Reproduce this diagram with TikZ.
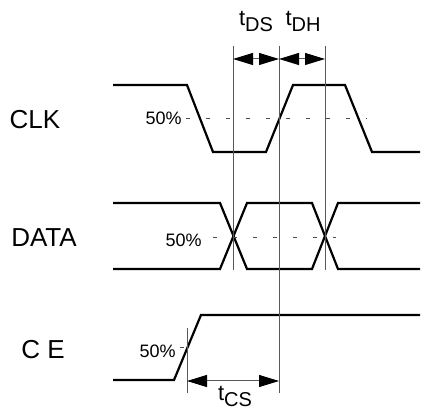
\documentclass[tikz,border=0pt]{standalone}
\usepackage{fontspec}
\setmainfont{Liberation Sans}
\usetikzlibrary{arrows.meta}
\tikzset{
    wave/.style={line width=1.1pt},
    guide/.style={line width=0.5pt,black!65},
    half/.style={line width=0.4pt,black!70,dash pattern=on 2pt off 8pt},
    dim/.style={line width=0.5pt,black!65,{Triangle[length=10pt,width=6pt,black]}-{Triangle[length=10pt,width=6pt,black]}},
    signame/.style={font=\fontsize{13}{15}\selectfont},
    pct/.style={font=\fontsize{9}{11}\selectfont,inner sep=0pt,anchor=east},
    tlabel/.style={font=\fontsize{11}{13}\selectfont}
}
\newcommand{\tsub}[1]{t\raisebox{-3pt}{\fontsize{10}{12}\selectfont #1}}

\begin{document}
\begin{tikzpicture}[x=0.5pt,y=-0.5pt]
        \useasboundingbox (0,0) rectangle (428,410);
        %信号名
        \node [signame] (clk) at (35,120) {CLK};
        \node [signame] (data) at (44,238) {DATA};
        \node [signame] (ce) at (43,350) {C E};

        %CLK
        \draw [wave] (113,85) -- (187,85) -- (213,152) -- (266,152) -- (293,85) -- (345,85) -- (372,152) -- (420,152);
        \draw [half] (186,118) -- (367,118);
        \node [pct] (clkpct) at (182,118) {50\%};

        %DATA
        \draw [wave] (113,203) -- (220,203) -- (247,269) -- (312,269) -- (338,203) -- (420,203);
        \draw [wave] (113,269) -- (220,269) -- (247,203) -- (312,203) -- (338,269) -- (420,269);
        \draw [half] (213,237) -- (336,237);
        \node [pct] (datapct) at (202,240) {50\%};

        %C E
        \draw [wave] (113,380) -- (174,380) -- (201,315) -- (420,315);
        \draw [half] (180,347) -- (186,347);
        \node [pct] (cepct) at (176,351) {50\%};

        %参考线
        \coordinate (ds top) at (233,46);  \coordinate (ds bot) at (233,270);
        \coordinate (ce top) at (279,46);  \coordinate (ce bot) at (279,393);
        \coordinate (dh top) at (325,46);  \coordinate (dh bot) at (325,270);
        \coordinate (cs top) at (187,328); \coordinate (cs bot) at (187,393);
        \draw [guide] (ds top) -- (ds bot);
        \draw [guide] (ce top) -- (ce bot);
        \draw [guide] (dh top) -- (dh bot);
        \draw [guide] (cs top) -- (cs bot);

        %时间间隔
        \coordinate (ds a) at (233,59); \coordinate (ds b) at (279,59);
        \coordinate (dh b) at (325,59);
        \coordinate (cs a) at (187,381); \coordinate (cs b) at (279,381);
        \draw [dim] (ds a) -- (ds b);
        \draw [dim] (ds b) -- (dh b);
        \draw [dim] (cs a) -- (cs b);
        \node [tlabel] (tds) at (256,21) {\tsub{DS}};
        \node [tlabel] (tdh) at (303,21) {\tsub{DH}};
        \node [tlabel] (tcs) at (235,396) {\tsub{CS}};
\end{tikzpicture}
\end{document}
